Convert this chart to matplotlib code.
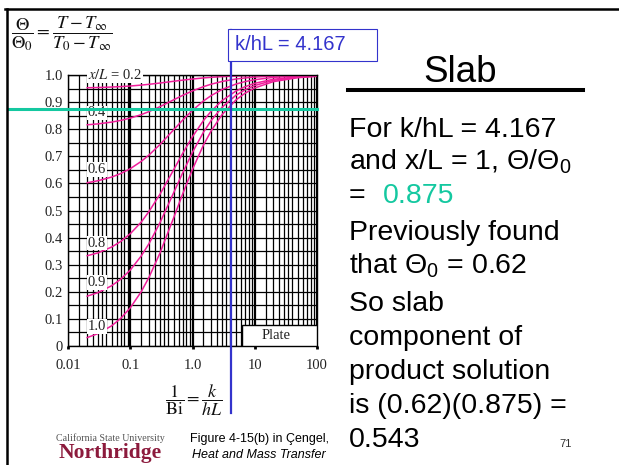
import matplotlib
matplotlib.use("Agg")
import matplotlib.pyplot as plt
from matplotlib.lines import Line2D
from matplotlib.patches import Rectangle
from matplotlib.ticker import NullFormatter

plt.rcParams["mathtext.fontset"] = "custom"
plt.rcParams["mathtext.rm"] = "Liberation Sans"
plt.rcParams["mathtext.it"] = "Liberation Sans:italic"
plt.rcParams["mathtext.bf"] = "Liberation Sans:bold"

# ---- chart data: position correction for a plane wall (Heisler chart) ----
k_over_hL = [0.02, 0.03, 0.05, 0.07, 0.1, 0.15, 0.2, 0.3, 0.5, 0.7,
             1, 1.5, 2, 3, 5, 7, 10, 20, 50, 100]
curve_xL = ["0.2", "0.4", "0.6", "0.8", "0.9", "1.0"]
theta_02 = [0.9529, 0.9538, 0.9556, 0.9572, 0.9594, 0.9628, 0.9657, 0.9704, 0.9769, 0.9811,
            0.9852, 0.9892, 0.9915, 0.9940, 0.9963, 0.9973, 0.9981, 0.9990, 0.9996, 0.9998]
theta_04 = [0.8162, 0.8196, 0.8262, 0.8324, 0.8411, 0.8539, 0.8651, 0.8833, 0.9087, 0.9252,
            0.9414, 0.9570, 0.9661, 0.9762, 0.9851, 0.9891, 0.9923, 0.9961, 0.9984, 0.9992]
theta_06 = [0.6023, 0.6098, 0.6234, 0.6364, 0.6546, 0.6815, 0.7051, 0.7438, 0.7984, 0.8344,
            0.8697, 0.9042, 0.9241, 0.9466, 0.9665, 0.9756, 0.9826, 0.9912, 0.9964, 0.9982]
theta_08 = [0.3330, 0.3436, 0.3653, 0.3858, 0.4148, 0.4576, 0.4969, 0.5603, 0.6513, 0.7121,
            0.7724, 0.8318, 0.8665, 0.9057, 0.9407, 0.9567, 0.9692, 0.9843, 0.9936, 0.9968]
theta_09 = [0.1837, 0.1969, 0.2225, 0.2467, 0.2808, 0.3328, 0.3783, 0.4554, 0.5667, 0.6405,
            0.7149, 0.7887, 0.8321, 0.8812, 0.9251, 0.9453, 0.9611, 0.9802, 0.9920, 0.9960]
theta_10 = [0.0308, 0.0457, 0.0746, 0.1022, 0.1415, 0.2010, 0.2542, 0.3436, 0.4746, 0.5629,
            0.6522, 0.7414, 0.7941, 0.8540, 0.9078, 0.9326, 0.9520, 0.9755, 0.9901, 0.9950]
curve_label_y = [1.0, 0.86, 0.65, 0.38, 0.235, 0.073]

x_ticks = [0.01, 0.1, 1, 10, 100]
x_tick_labels = ["0.01", "0.1", "1.0", "10", "100"]
y_ticks = [0, 0.1, 0.2, 0.3, 0.4, 0.5, 0.6, 0.7, 0.8, 0.9, 1.0]
y_tick_labels = ["0", "0.1", "0.2", "0.3", "0.4", "0.5", "0.6", "0.7", "0.8", "0.9", "1.0"]
grid_mantissas = [1.5, 2, 2.5, 3, 3.5, 4, 5, 6, 7, 8, 9]

k_hL_value = 4.167
ratio_value = 0.875
theta0_value = 0.62
product_value = 0.543

W, H = 619, 465
MAGENTA = "#F01E9B"
TEAL = "#14C8A0"
BLUE = "#3333CC"
SERIF = "Liberation Serif"
SANS = "Liberation Sans"


def fx(px):
    return px / W


def fy(py):
    return 1 - py / H


fig = plt.figure(figsize=(W / 100, H / 100), dpi=100)
fig.patch.set_facecolor("white")

ax = fig.add_axes([fx(68.3), fy(346), (316.7 - 68.3) / W, (346 - 75) / H])
ax.set_xscale("log")
ax.set_xlim(0.01, 100)
ax.set_ylim(0, 1)

# dense log grid
minor_x = [d * m for d in [0.01, 0.1, 1, 10] for m in grid_mantissas]
ax.set_xticks(x_ticks)
ax.set_xticks(minor_x, minor=True)
ax.xaxis.set_minor_formatter(NullFormatter())
ax.set_yticks(y_ticks)
ax.set_yticks([i * 0.05 for i in range(21)], minor=True)
ax.yaxis.set_minor_formatter(NullFormatter())
ax.set_xticklabels(x_tick_labels, family=SERIF, fontsize=10.5, color="#222222")
ax.set_yticklabels(y_tick_labels, family=SERIF, fontsize=10.5, color="#222222")
ax.tick_params(axis="x", which="major", length=2.5, width=2, direction="out", pad=7)
ax.tick_params(axis="x", which="minor", length=0)
ax.tick_params(axis="y", which="both", length=0, pad=4)
ax.set_axisbelow(True)
ax.grid(which="major", axis="x", color="black", lw=1.6)
ax.grid(which="minor", axis="x", color="black", lw=0.9)
ax.grid(which="both", axis="y", color="black", lw=0.9)
for s in ax.spines.values():
    s.set_color("black")
    s.set_linewidth(1.0)

series = [theta_02, theta_04, theta_06, theta_08, theta_09, theta_10]
for vals in series:
    ax.plot(k_over_hL, vals, color=MAGENTA, lw=1.1, zorder=2, solid_capstyle="round")

for lab, yv in zip(curve_xL, curve_label_y):
    txt = r"$x/L$ = " + lab if lab == "0.2" else lab
    ax.text(0.0205, yv, txt, ha="left", va="center", fontsize=10.5, family=SERIF,
            math_fontfamily="stix", color="#222222", zorder=4,
            bbox=dict(facecolor="white", edgecolor="none", pad=0.6))

# "Plate" box in the lower right corner
ax.add_patch(Rectangle((6.3, 0), 100 - 6.3, 0.077, facecolor="white",
                       edgecolor="black", lw=1.0, zorder=3))
ax.text(22, 0.039, "Plate", ha="center", va="center", fontsize=10.5, family=SERIF,
        color="#222222", zorder=4)

# reading lines
ax.axhline(ratio_value, xmin=(8 - 68.3) / 248.4, xmax=1.0, color=TEAL, lw=2.2,
           clip_on=False, zorder=5)
ax.axvline(k_hL_value, ymin=(346 - 413) / 271, ymax=(346 - 30) / 271, color=BLUE,
           lw=1.6, clip_on=False, zorder=6)

# axis formulas
fig.text(fx(11), fy(34),
         r"$\dfrac{\Theta}{\Theta_0} = \dfrac{T - T_\infty}{T_0 - T_\infty}$",
         ha="left", va="center", fontsize=13.3, math_fontfamily="stix", color="#111111")
fig.text(fx(194), fy(400), r"$\dfrac{1}{\mathrm{Bi}} = \dfrac{k}{hL}$",
         ha="center", va="center", fontsize=13, math_fontfamily="stix", color="#111111")

# blue value box
fig.add_artist(Rectangle((fx(228), fy(61)), (377 - 228) / W, (61 - 29) / H,
                         transform=fig.transFigure, facecolor="white",
                         edgecolor=BLUE, lw=0.8, zorder=7))
fig.text(fx(235), fy(45), f"k/hL = {k_hL_value:.3f}", ha="left", va="center",
         fontsize=14.5, family=SANS, color=BLUE, zorder=8)

# slide frame
fig.add_artist(Line2D([fx(5), 1], [fy(9), fy(9)], color="black", lw=1.8))
fig.add_artist(Line2D([fx(6.5), fx(6.5)], [fy(9), 0], color="black", lw=1.8))

# title with rule
fig.text(fx(460), fy(82), "Slab", ha="center", va="baseline", fontsize=26.5,
         family=SANS, color="black")
fig.add_artist(Line2D([fx(348), fx(583)], [fy(90), fy(90)], color="black", lw=2.9))

body = [
    ("For k/hL = 4.167", 137),
    (r"and x/L = 1, $\Theta/\Theta_0$", 170),
    ("Previously found", 240),
    (r"that $\Theta_0$ = " + f"{theta0_value:.2f}", 274),
    ("So slab", 311),
    ("component of", 345),
    ("product solution", 379),
    (f"is ({theta0_value:.2f})({ratio_value:.3f}) =", 413),
    (f"{product_value:.3f}", 447),
]
for line, base in body:
    fig.text(fx(349), fy(base), line, ha="left", va="baseline", fontsize=20.5,
             family=SANS, color="black")
fig.text(fx(349), fy(203), "=", ha="left", va="baseline", fontsize=20.5,
         family=SANS, color="black")
fig.text(fx(383), fy(203), f"{ratio_value:.3f}", ha="left", va="baseline",
         fontsize=20.5, family=SANS, color=TEAL)

fig.text(fx(566), fy(447), "71", ha="center", va="baseline", fontsize=8,
         family=SANS, color="#333333")

# footer: university mark and figure source
fig.text(fx(110), fy(441), "California State University", ha="center", va="baseline",
         fontsize=7.2, family=SERIF, color="#555555")
fig.text(fx(110), fy(458), "Northridge", ha="center", va="baseline",
         fontsize=15.5, family=SERIF, weight="bold", color="#8C1A3C")
fig.text(fx(259), fy(442), "Figure 4-15(b) in Çengel,", ha="center", va="baseline",
         fontsize=9, family=SANS, color="black")
fig.text(fx(259), fy(458), "Heat and Mass Transfer", ha="center", va="baseline",
         fontsize=9, family=SANS, style="italic", color="black")

fig.savefig("out.png", dpi=100, facecolor="white")
